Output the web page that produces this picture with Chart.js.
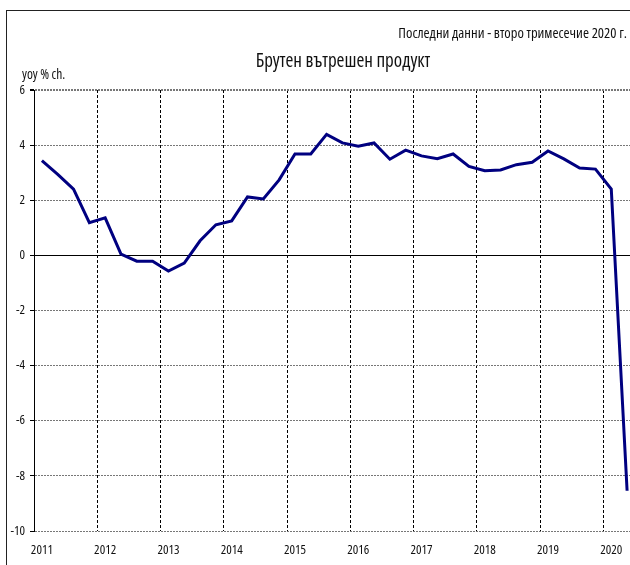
<!DOCTYPE html>
<html>
<head>
<meta charset="utf-8">
<script src="https://cdn.jsdelivr.net/npm/chart.js@4/dist/chart.umd.min.js"></script>
<style>
  html, body { margin: 0; padding: 0; width: 630px; height: 565px; overflow: hidden; background: #fff; }
  #frame { position: absolute; left: 6px; top: 10px; width: 700px; height: 600px; border-left: 1px solid #222; border-top: 1px solid #222; }
  #wrap { position: absolute; left: 0; top: 0; width: 650px; height: 565px; }
  .txt { position: absolute; font-family: "Open Sans", "DejaVu Sans Condensed", sans-serif; font-stretch: condensed; color: #111; white-space: nowrap; }
  #note { right: 3px; top: 22px; font-size: 14.6px; }
  #title { left: 0; width: 686px; text-align: center; top: 47px; font-size: 19px; }
  #unit { left: 22px; top: 65px; font-size: 13.5px; }
</style>
</head>
<body>
<div id="frame"></div>
<div id="wrap"><canvas id="c" width="650" height="565"></canvas></div>
<div class="txt" id="note">Последни данни - второ тримесечие 2020 г.</div>
<div class="txt" id="title">Брутен вътрешен продукт</div>
<div class="txt" id="unit">yoy % ch.</div>
<script>
const years = [2011, 2012, 2013, 2014, 2015, 2016, 2017, 2018, 2019, 2020];
const quarters = ['Q1', 'Q2', 'Q3', 'Q4'];
const categories = [];
years.forEach(y => quarters.forEach(q => { if (!(y === 2020 && (q === 'Q3' || q === 'Q4'))) categories.push(y + ' ' + q); }));
const gdpYoY = [
  3.44, 2.94, 2.40, 1.19,
  1.36, 0.05, -0.21, -0.21,
  -0.57, -0.28, 0.53, 1.11,
  1.25, 2.12, 2.05, 2.74,
  3.68, 3.68, 4.39, 4.08,
  3.96, 4.08, 3.49, 3.82,
  3.61, 3.51, 3.68, 3.23,
  3.07, 3.10, 3.29, 3.38,
  3.79, 3.50, 3.17, 3.13,
  2.41, -8.54
];
const yMin = -10, yMax = 6, yStep = 2;
const FONT = '"Open Sans", "DejaVu Sans Condensed", sans-serif';
const tickFont = { family: FONT, size: 13, weight: 'condensed' };

new Chart(document.getElementById('c'), {
  type: 'line',
  data: {
    labels: categories,
    datasets: [{
      data: gdpYoY,
      borderColor: '#000080',
      borderWidth: 3,
      pointRadius: 0,
      tension: 0,
      fill: false
    }]
  },
  options: {
    responsive: false,
    animation: false,
    devicePixelRatio: 1,
    plugins: { legend: { display: false }, tooltip: { enabled: false } },
    layout: { padding: { top: 90, left: 0, right: 15, bottom: 0 } },
    scales: {
      x: {
        type: 'category',
        offset: true,
        afterFit: s => { s.height = 34; },
        grid: {
          offset: true,
          drawTicks: false,
          lineWidth: 1,
          color: ctx => (ctx.index > 0 && ctx.index % 4 === 0 && ctx.index < categories.length) ? '#000' : 'rgba(0,0,0,0)'
        },
        border: { display: false, dash: [3, 2] },
        ticks: {
          autoSkip: false,
          maxRotation: 0,
          padding: 11,
          color: '#111',
          font: tickFont,
          callback: (v, i) => (i % 4 === 0) ? categories[i].slice(0, 4) : ''
        }
      },
      y: {
        min: yMin,
        max: yMax,
        afterFit: s => { s.width = 34; },
        ticks: {
          stepSize: yStep,
          padding: 5,
          color: '#111',
          font: tickFont
        },
        grid: {
          drawTicks: true,
          tickLength: 4,
          tickColor: '#000',
          tickBorderDash: [],
          lineWidth: ctx => (ctx.tick && ctx.tick.value === yMax) ? 2 : 1,
          color: ctx => (ctx.tick && ctx.tick.value === 0) ? '#000' : '#777'
        },
        border: {
          display: true,
          color: '#000',
          width: 1,
          dash: ctx => (ctx.tick && ctx.tick.value !== 0) ? [2, 1] : []
        }
      }
    }
  }
});
</script>
</body>
</html>
